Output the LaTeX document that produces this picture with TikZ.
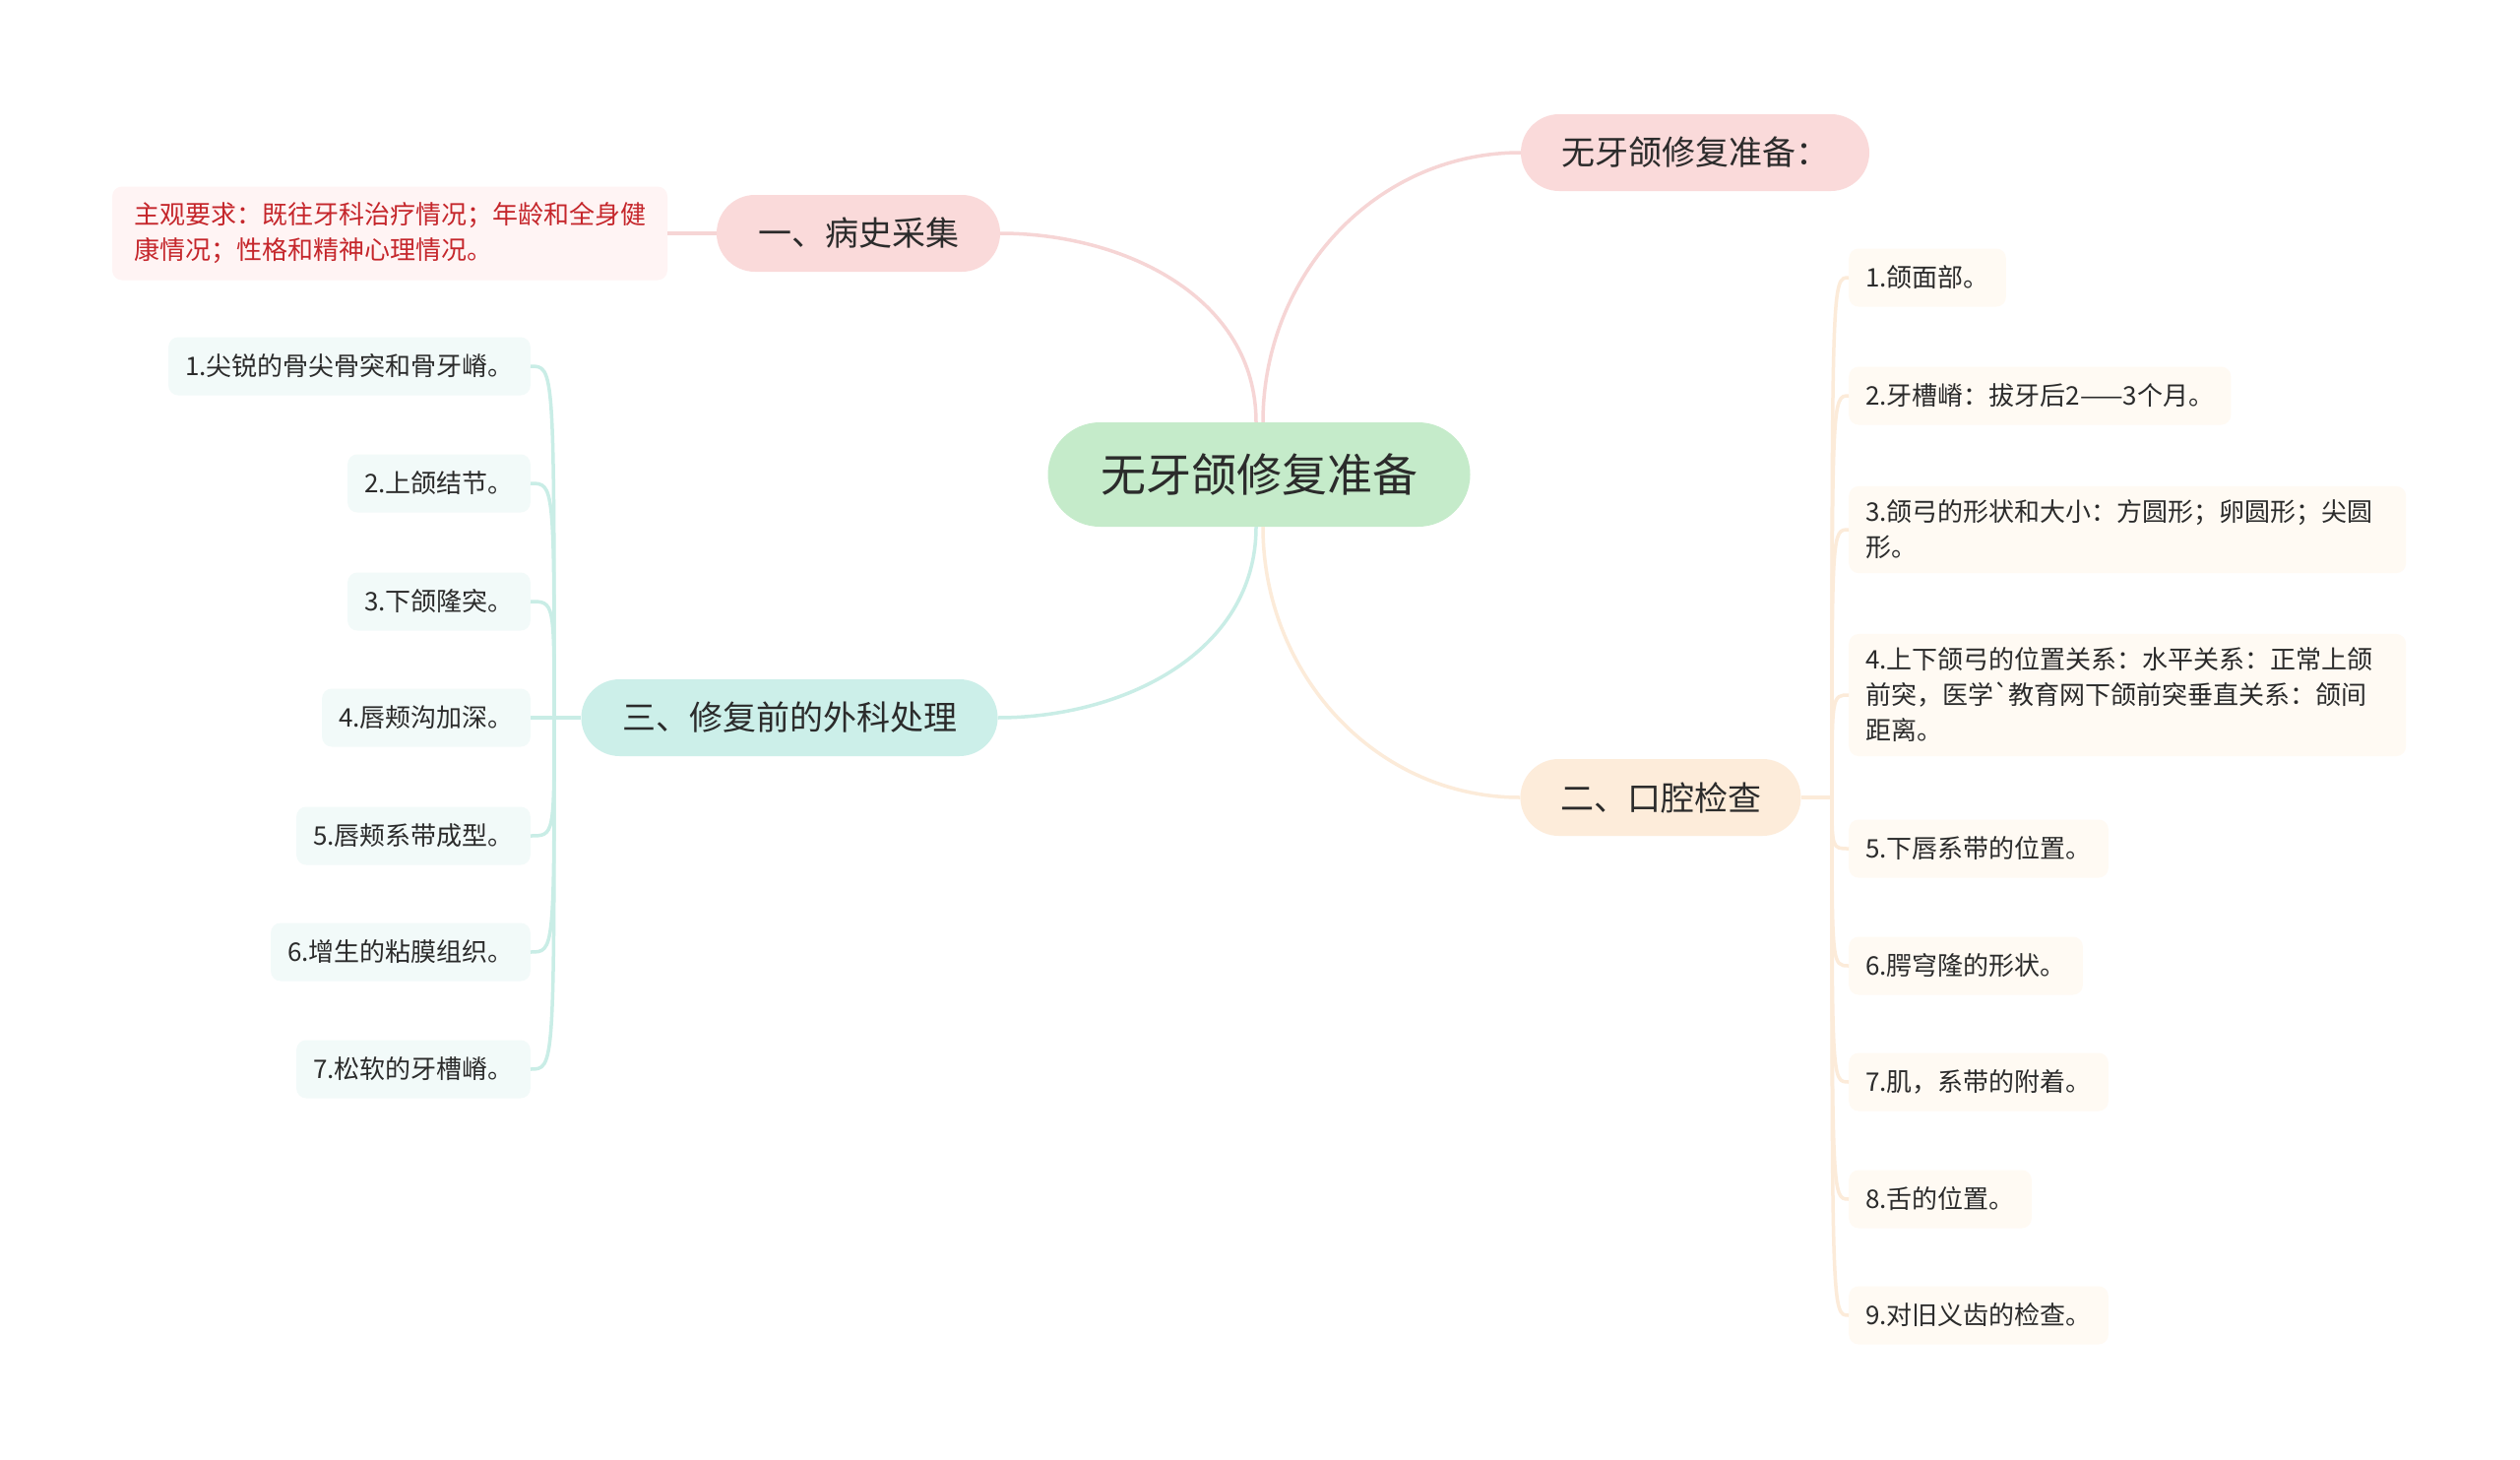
\documentclass[tikz,border=0pt]{standalone}
\usepackage{fontspec}
\setmainfont{Noto Sans CJK SC}[Ligatures=TeXOff]
\usetikzlibrary{calc}
\definecolor{rootfill}{HTML}{C5EBCA}
\definecolor{pinkfill}{HTML}{FADADA}
\definecolor{tealfill}{HTML}{CCEFE9}
\definecolor{peachfill}{HTML}{FDECDA}
\definecolor{pinkline}{HTML}{F6D5D5}
\definecolor{tealline}{HTML}{C9EDE6}
\definecolor{peachline}{HTML}{FCEBD9}
\definecolor{pinkleaf}{HTML}{FFF4F4}
\definecolor{tealleaf}{HTML}{F2FAF9}
\definecolor{peachleaf}{HTML}{FFFAF3}
\definecolor{redtext}{HTML}{C5262B}
\definecolor{textdark}{HTML}{2B2B2B}
\begin{document}
\begin{tikzpicture}[x=1pt,y=-1pt,
  rootbox/.style={fill=rootfill, rounded corners=53pt, minimum width=429pt, minimum height=106pt, inner sep=0pt, text=textdark, font=\fontsize{46}{52}\selectfont},
  branchbox/.style={rounded corners=39pt, minimum height=78pt, inner sep=0pt, text=textdark, font=\fontsize{34}{40}\selectfont},
  leafbox/.style={rounded corners=10pt, minimum height=59pt, inner xsep=17pt, inner ysep=14pt, text=textdark, align=left, font=\fontsize{26}{36}\selectfont},
  tleaf/.style={leafbox, fill=tealleaf, anchor=east},
  pleaf/.style={leafbox, fill=peachleaf, anchor=west},
  link/.style={line width=3.5pt}
]
\useasboundingbox[fill=white] (0,0) rectangle (2560,1483);

% main nodes
\node[rootbox] (root) at (1279,482) {无牙颌修复准备};
\node[branchbox, fill=pinkfill, minimum width=354pt] (b0) at (1722,155) {无牙颌修复准备：};
\node[branchbox, fill=pinkfill, minimum width=288pt] (b1) at (872,237) {一、病史采集};
\node[branchbox, fill=tealfill, minimum width=423pt] (b3) at (802,729) {三、修复前的外科处理};
\node[branchbox, fill=peachfill, minimum width=285pt] (b2) at (1687,810) {二、口腔检查};

% history leaf
\node[leafbox, fill=pinkleaf, text=redtext, minimum width=564pt, minimum height=95pt, inner xsep=15pt] (h1) at (396,237) {主观要求：既往牙科治疗情况；年龄和全身健\\康情况；性格和精神心理情况。};

% surgery leaves
\node[tleaf] (s1) at (539,372) {1.尖锐的骨尖骨突和骨牙嵴。};
\node[tleaf] (s2) at (539,491) {2.上颌结节。};
\node[tleaf] (s3) at (539,611) {3.下颌隆突。};
\node[tleaf] (s4) at (539,729) {4.唇颊沟加深。};
\node[tleaf] (s5) at (539,849) {5.唇颊系带成型。};
\node[tleaf] (s6) at (539,967) {6.增生的粘膜组织。};
\node[tleaf] (s7) at (539,1086) {7.松软的牙槽嵴。};

% exam leaves
\node[pleaf] (e1) at (1878,282) {1.颌面部。};
\node[pleaf] (e2) at (1878,402) {2.牙槽嵴：拔牙后2——3个月。};
\node[pleaf, text width=532pt] (e3) at (1878,538) {3.颌弓的形状和大小：方圆形；卵圆形；尖圆\\形。};
\node[pleaf, text width=532pt] (e4) at (1878,706) {4.上下颌弓的位置关系：水平关系：正常上颌\\前突，医学`教育网下颌前突垂直关系：颌间\\距离。};
\node[pleaf] (e5) at (1878,862) {5.下唇系带的位置。};
\node[pleaf] (e6) at (1878,981) {6.腭穹隆的形状。};
\node[pleaf] (e7) at (1878,1099) {7.肌，系带的附着。};
\node[pleaf] (e8) at (1878,1218) {8.舌的位置。};
\node[pleaf] (e9) at (1878,1336) {9.对旧义齿的检查。};

% junctions
\coordinate (J3) at (563,729);
\coordinate (J2) at (1861,810);

% connectors from root
\draw[link, pinkline] ($(root.north)+(4,0)$) to[out=90,in=180] (b0.west);
\draw[link, pinkline] ($(root.north)+(-3,0)$) to[out=90,in=0] (b1.east);
\draw[link, tealline] ($(root.south)+(-3,0)$) to[out=-90,in=0] (b3.east);
\draw[link, peachline] ($(root.south)+(4,0)$) to[out=-90,in=180] (b2.west);

% history
\draw[link, pinkline] (b1.west) -- (h1.east);

% surgery
\draw[link, tealline] (b3.west) -- (J3);
\foreach \n in {s1,s2,s3,s4,s5,s6,s7}{
  \draw[link, tealline] (J3) .. controls (J3 |- \n.east) and (J3 |- \n.east) .. (\n.east);
}

% exam
\draw[link, peachline] (b2.east) -- (J2);
\foreach \n in {e1,e2,e3,e4,e5,e6,e7,e8,e9}{
  \draw[link, peachline] (J2) .. controls (J2 |- \n.west) and (J2 |- \n.west) .. (\n.west);
}
\end{tikzpicture}
\end{document}
